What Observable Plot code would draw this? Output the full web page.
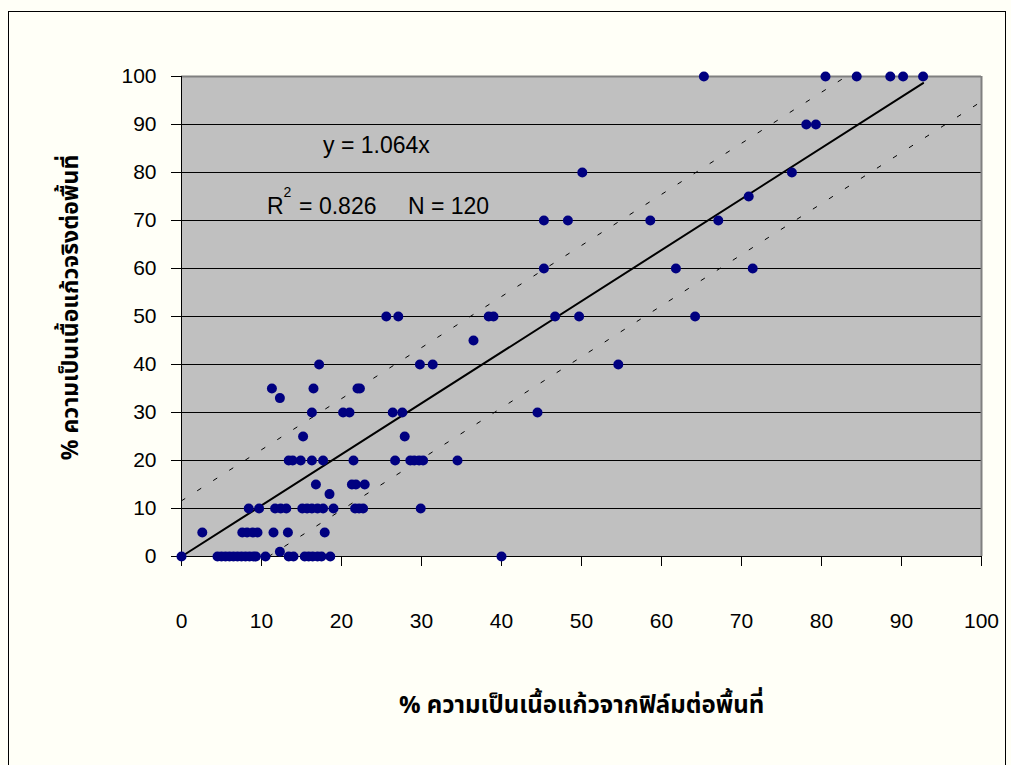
<!DOCTYPE html>
<html>
<head>
<meta charset="utf-8">
<script src="https://cdn.jsdelivr.net/npm/d3@7"></script>
<script src="https://cdn.jsdelivr.net/npm/@observablehq/plot@0.6"></script>
<style>
  html, body { margin: 0; padding: 0; background: #fffff7; overflow: hidden; }
  #chart svg { display: block; }
</style>
</head>
<body>
<div id="chart"></div>
<script>
const filmPct = [
  0,
  4.5, 5.0, 5.5, 6.0, 6.5, 7.0, 7.5, 8.0, 8.5, 9.0, 9.3, 10.5, 13.4, 14.0, 15.4, 15.9, 16.4, 17.0, 17.5, 18.6, 40.0,
  12.3,
  2.6, 7.6, 8.2, 8.9, 9.5, 11.5, 13.3, 17.9,
  8.4, 9.7, 11.7, 12.4, 13.1, 15.1, 15.7, 16.3, 17.0, 17.7, 19.0, 21.7, 22.2, 22.7, 29.9,
  18.5,
  16.8, 21.3, 21.8, 22.9,
  13.4, 13.9, 14.9, 16.3, 17.7, 21.5, 26.7, 28.6, 29.1, 29.7, 30.2, 34.5,
  15.2, 27.9,
  16.3, 20.2, 21.0, 26.4, 27.6, 44.5,
  12.3,
  11.3, 16.5, 22.0, 22.3,
  17.2, 29.8, 31.4, 54.6,
  36.5,
  25.6, 27.1, 38.4, 39.0, 46.7, 49.7, 64.2,
  45.3, 61.8, 71.4,
  45.3, 48.3, 58.6, 67.1,
  70.9,
  50.1, 76.3,
  78.1, 79.3,
  65.3, 80.5, 84.4, 88.6, 90.2, 92.7
];
const actualPct = [
  0,
  0, 0, 0, 0, 0, 0, 0, 0, 0, 0, 0, 0, 0, 0, 0, 0, 0, 0, 0, 0, 0,
  1,
  5, 5, 5, 5, 5, 5, 5, 5,
  10, 10, 10, 10, 10, 10, 10, 10, 10, 10, 10, 10, 10, 10, 10,
  13,
  15, 15, 15, 15,
  20, 20, 20, 20, 20, 20, 20, 20, 20, 20, 20, 20,
  25, 25,
  30, 30, 30, 30, 30, 30,
  33,
  35, 35, 35, 35,
  40, 40, 40, 40,
  45,
  50, 50, 50, 50, 50, 50, 50,
  60, 60, 60,
  70, 70, 70, 70,
  75,
  80, 80,
  90, 90,
  100, 100, 100, 100, 100, 100
];

const xTicks = [0, 10, 20, 30, 40, 50, 60, 70, 80, 90, 100];
const yTicks = [0, 10, 20, 30, 40, 50, 60, 70, 80, 90, 100];

// regression through origin and its band
const slope = 1.064;
const band = 11.6;

const annoText = ["y = 1.064x", "R", "= 0.826", "N = 120"];
const annoX = [17.7, 10.7, 14.7, 28.3];
const annoY = [85.6, 72.9, 72.9, 72.9];
const supText = ["2"];
const supX = [12.75];
const supY = [75.8];

const xTitle = "% ความเป็นเนื้อแก้วจากฟิล์มต่อพื้นที่";
const yTitle = "% ความเป็นเนื้อแก้วจริงต่อพื้นที่";

// build tables
const points = filmPct.map((x, i) => ({x, y: actualPct[i]}));
const xFitMax = d3.max(filmPct);
const fitLine = [{x: 0, y: 0}, {x: xFitMax, y: slope * xFitMax}];
const upperLine = [{x: 0, y: band}, {x: (100 - band) / slope, y: 100}];
const lowerLine = [{x: band / slope, y: 0}, {x: 100, y: slope * 100 - band}];
const annos = annoText.map((t, i) => ({t, x: annoX[i], y: annoY[i]}));
const sups = supText.map((t, i) => ({t, x: supX[i], y: supY[i]}));

const thaiFont = "'Noto Sans Thai', 'Noto Sans', 'DejaVu Sans', sans-serif";
const latinFont = "'Liberation Sans', Arial, sans-serif";

const chart = Plot.plot({
  width: 1011,
  height: 765,
  marginLeft: 181,
  marginRight: 30,
  marginTop: 76,
  marginBottom: 209,
  style: {background: "transparent", fontFamily: latinFont, color: "black"},
  x: {domain: [0, 100]},
  y: {domain: [0, 100]},
  marks: [
    Plot.frame({fill: "#c0c0c0", stroke: null}),
    Plot.gridY(yTicks.filter(d => d > 0 && d < 100), {stroke: "black", strokeOpacity: 1, strokeWidth: 1}),
    Plot.ruleY([100], {stroke: "#808080", strokeWidth: 2}),
    Plot.ruleX([100], {stroke: "#808080", strokeWidth: 2}),
    Plot.ruleX([0], {stroke: "black", strokeWidth: 1}),
    Plot.ruleY([0], {stroke: "black", strokeWidth: 1}),
    Plot.axisX(xTicks, {tickSize: 10, tickPadding: 47, fontSize: 21, label: null, stroke: "black"}),
    Plot.axisY(yTicks, {tickSize: 10, tickPadding: 15, fontSize: 21, label: null, stroke: "black"}),
    Plot.line(upperLine, {x: "x", y: "y", stroke: "black", strokeWidth: 1, strokeDasharray: "4,15"}),
    Plot.line(lowerLine, {x: "x", y: "y", stroke: "black", strokeWidth: 1, strokeDasharray: "4,15"}),
    Plot.line(fitLine, {x: "x", y: "y", stroke: "black", strokeWidth: 2}),
    Plot.dot(points, {x: "x", y: "y", r: 5, fill: "#000080", stroke: null}),
    Plot.text(annos, {x: "x", y: "y", text: "t", textAnchor: "start", fontSize: 23, fill: "black"}),
    Plot.text(sups, {x: "x", y: "y", text: "t", textAnchor: "start", fontSize: 14, fill: "black"}),
    Plot.text([xTitle], {frameAnchor: "bottom", textAnchor: "middle", dy: 156, text: d => d, fontSize: 24, fontWeight: "bold", fontFamily: thaiFont, fill: "black"}),
    Plot.text([yTitle], {frameAnchor: "left", textAnchor: "middle", dx: -111, dy: -9, rotate: -90, text: d => d, fontSize: 23, fontWeight: "bold", fontFamily: thaiFont, fill: "black"})
  ]
});

d3.select(chart).insert("rect", ":first-child")
  .attr("x", 8.5).attr("y", 11.5).attr("width", 997).attr("height", 800)
  .attr("fill", "none").attr("stroke", "black");

document.getElementById("chart").appendChild(chart);
</script>
</body>
</html>
